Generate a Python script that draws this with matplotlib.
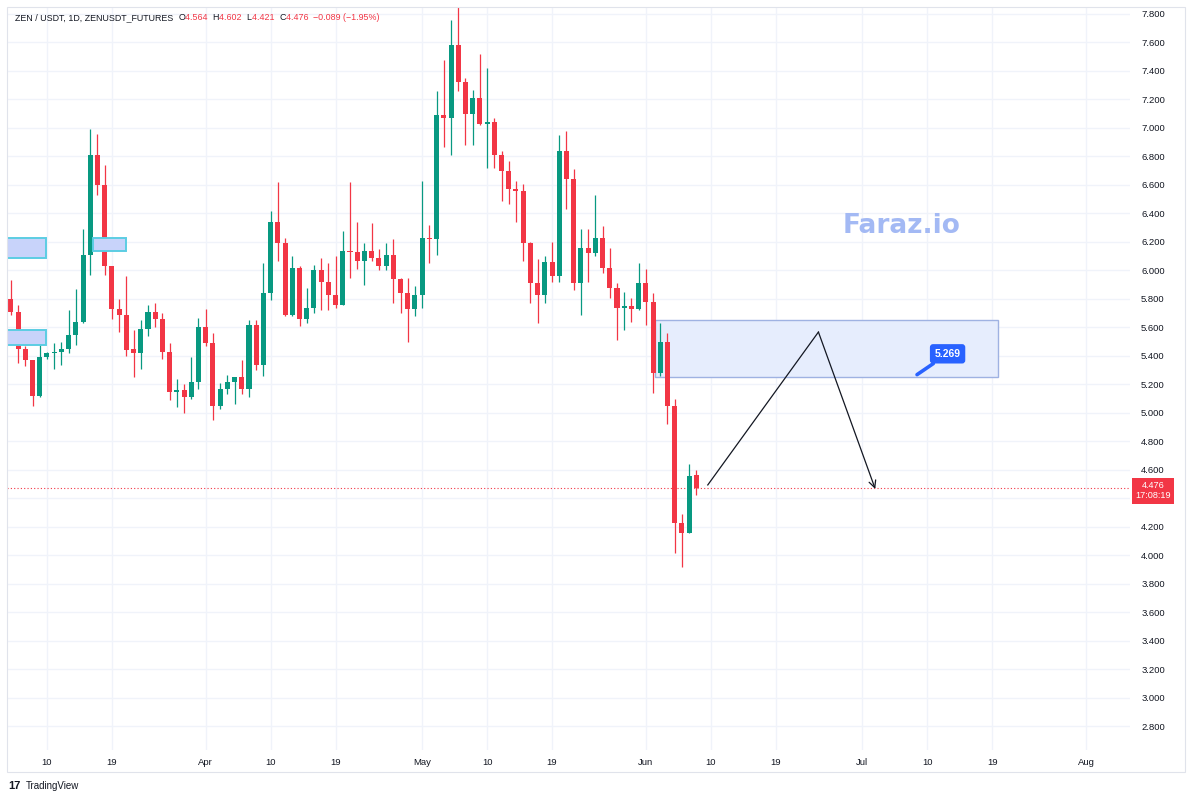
import matplotlib
matplotlib.use("Agg")
import matplotlib.pyplot as plt
import matplotlib.dates as mdates
from matplotlib.patches import Rectangle
from matplotlib.ticker import MultipleLocator, FuncFormatter
import matplotlib.transforms as mtransforms
import numpy as np
import pandas as pd

# daily candles, first one on first_day
first_day = "2025-03-05"
opens = [5.80, 5.71, 5.45, 5.37, 5.12, 5.39, 5.42, 5.43, 5.45, 5.55,
         5.64, 6.11, 6.81, 6.60, 6.03, 5.73, 5.69, 5.45, 5.42, 5.59,
         5.71, 5.66, 5.43, 5.15, 5.16, 5.11, 5.22, 5.60, 5.49, 5.05,
         5.17, 5.22, 5.25, 5.17, 5.62, 5.34, 5.84, 6.34, 6.19, 5.69,
         6.02, 5.66, 5.74, 6.00, 5.92, 5.83, 5.76, 6.14, 6.13, 6.07,
         6.14, 6.09, 6.03, 6.11, 5.94, 5.84, 5.73, 5.83, 6.23, 6.22,
         7.09, 7.07, 7.58, 7.32, 7.10, 7.21, 7.03, 7.04, 6.81, 6.70,
         6.57, 6.56, 6.19, 5.91, 5.83, 6.06, 5.96, 6.84, 6.64, 5.91,
         6.16, 6.12, 6.23, 6.02, 5.88, 5.74, 5.75, 5.73, 5.91, 5.78,
         5.28, 5.50, 5.05, 4.23, 4.16, 4.564]
highs = [5.93, 5.76, 5.47, 5.37, 5.53, 5.43, 5.49, 5.50, 5.72, 5.87,
         6.29, 6.99, 6.96, 6.74, 6.03, 5.80, 5.96, 5.58, 5.65, 5.76,
         5.77, 5.70, 5.49, 5.24, 5.20, 5.39, 5.67, 5.73, 5.56, 5.21,
         5.27, 5.25, 5.37, 5.65, 5.65, 6.05, 6.42, 6.62, 6.23, 6.10,
         6.03, 5.88, 6.04, 6.09, 6.05, 6.10, 6.28, 6.62, 6.34, 6.19,
         6.33, 6.15, 6.19, 6.22, 5.95, 5.95, 5.89, 6.63, 6.32, 7.26,
         7.48, 7.76, 7.85, 7.35, 7.27, 7.52, 7.42, 7.07, 6.84, 6.77,
         6.63, 6.61, 6.20, 6.08, 6.10, 6.20, 6.95, 6.98, 6.71, 6.29,
         6.29, 6.53, 6.31, 6.16, 5.91, 5.85, 5.81, 6.05, 6.01, 5.84,
         5.63, 5.56, 5.10, 4.29, 4.64, 4.602]
lows = [5.69, 5.35, 5.33, 5.05, 5.11, 5.38, 5.31, 5.34, 5.42, 5.48,
        5.63, 5.97, 6.53, 5.97, 5.66, 5.57, 5.40, 5.25, 5.31, 5.54,
        5.60, 5.38, 5.09, 5.04, 5.00, 5.10, 5.17, 5.47, 4.95, 5.03,
        5.13, 5.06, 5.13, 5.11, 5.30, 5.26, 5.79, 6.07, 5.68, 5.68,
        5.61, 5.63, 5.70, 5.72, 5.72, 5.74, 5.76, 5.95, 6.01, 5.90,
        6.07, 6.00, 6.00, 5.77, 5.70, 5.50, 5.68, 5.74, 6.05, 6.11,
        6.87, 6.81, 7.26, 6.88, 6.88, 7.02, 6.72, 6.72, 6.49, 6.47,
        6.34, 6.07, 5.77, 5.63, 5.77, 5.92, 5.92, 6.43, 5.86, 5.69,
        5.92, 6.10, 5.98, 5.81, 5.51, 5.58, 5.64, 5.72, 5.62, 5.14,
        5.26, 4.92, 4.02, 3.92, 4.16, 4.421]
closes = [5.71, 5.45, 5.37, 5.12, 5.39, 5.42, 5.43, 5.45, 5.55, 5.64,
          6.11, 6.81, 6.60, 6.03, 5.73, 5.69, 5.44, 5.42, 5.59, 5.71,
          5.66, 5.43, 5.15, 5.16, 5.11, 5.22, 5.60, 5.49, 5.05, 5.17,
          5.22, 5.25, 5.17, 5.62, 5.34, 5.84, 6.34, 6.19, 5.69, 6.02,
          5.66, 5.74, 6.00, 5.92, 5.83, 5.76, 6.14, 6.13, 6.07, 6.14,
          6.09, 6.03, 6.11, 5.94, 5.84, 5.73, 5.83, 6.23, 6.22, 7.09,
          7.07, 7.58, 7.32, 7.10, 7.21, 7.03, 7.04, 6.81, 6.70, 6.57,
          6.56, 6.19, 5.91, 5.83, 6.06, 5.96, 6.84, 6.64, 5.91, 6.16,
          6.12, 6.23, 6.02, 5.88, 5.74, 5.75, 5.73, 5.91, 5.78, 5.28,
          5.50, 5.05, 4.23, 4.16, 4.56, 4.476]

last_price = 4.476
header_name = "ZEN / USDT, 1D, ZENUSDT_FUTURES"
header_ohlc = [("O", "4.564"), ("H", "4.602"), ("L", "4.421"), ("C", "4.476")]
header_change = "\u22120.089 (\u22121.95%)"
countdown = "17:08:19"

# supply / demand zones: start, end, top, bottom
zone_starts = ["2025-02-25", "2025-03-16 10:00", "2025-02-25"]
zone_ends = ["2025-03-09 22:00", "2025-03-21 00:00", "2025-03-09 22:00"]
zone_tops = [6.23, 6.23, 5.58]
zone_bottoms = [6.09, 6.14, 5.48]

target_start = "2025-06-02 08:00"
target_end = "2025-07-19 20:00"
target_top = 5.65
target_bottom = 5.25
target_label = 5.269
target_label_day = "2025-07-08 14:00"

path_days = ["2025-06-09 14:00", "2025-06-24 22:00", "2025-07-02 19:00"]
path_prices = [4.495, 5.568, 4.467]

up_col = "#089981"
down_col = "#f23645"
text_col = "#131722"
grid_col = "#f0f3fa"

plt.rcParams["font.family"] = ["Liberation Sans", "DejaVu Sans"]

W, H = 1193, 800
fig = plt.figure(figsize=(W / 100, H / 100), dpi=100)
fig.patch.set_facecolor("white")
ax = fig.add_axes([7 / W, 1 - 750 / H, (1130 - 7) / W, (750 - 8) / H])

dates = pd.date_range(first_day, periods=len(opens), freq="D")
x = mdates.date2num(dates)
o = np.array(opens)
c = np.array(closes)
cols = np.where(c >= o, up_col, down_col)

ax.vlines(x, lows, highs, colors=cols, lw=0.9, zorder=3)
body = np.maximum(np.abs(c - o), 0.007)
ax.bar(x, body, bottom=np.minimum(o, c), width=0.7, color=cols, zorder=4)

# zones
for s, e, t, b in zip(zone_starts, zone_ends, zone_tops, zone_bottoms):
    xs = mdates.date2num(pd.Timestamp(s))
    xe = mdates.date2num(pd.Timestamp(e))
    ax.add_patch(Rectangle((xs, b), xe - xs, t - b, fc="#c8d3fa", ec="#5ccde3",
                           lw=1.4, zorder=5))

ts = mdates.date2num(pd.Timestamp(target_start))
te = mdates.date2num(pd.Timestamp(target_end))
ax.add_patch(Rectangle((ts, target_bottom), te - ts, target_top - target_bottom,
                       fc="#e6edfd", ec="#9fb2e2", lw=1, zorder=2))

# projected path
px = mdates.date2num(pd.to_datetime(path_days))
ax.plot(px[:2], path_prices[:2], color=text_col, lw=0.9, zorder=6)
ax.annotate("", xy=(px[2], path_prices[2]), xytext=(px[1], path_prices[1]),
            arrowprops=dict(arrowstyle="->,head_length=0.5,head_width=0.25",
                            color=text_col, lw=0.9, shrinkA=0, shrinkB=0),
            zorder=6)

# price label in the zone
lx = mdates.date2num(pd.Timestamp(target_label_day))
ax.annotate(f"{target_label:.3f}", xy=(lx, target_label), xytext=(22, 15),
            textcoords="offset points", ha="center", va="center",
            color="white", fontsize=7.5, fontweight="bold",
            bbox=dict(boxstyle="round,pad=0.45,rounding_size=0.3",
                      fc="#2962ff", ec="none"),
            arrowprops=dict(arrowstyle="-", color="#2962ff", lw=2.6,
                            shrinkA=0, shrinkB=0),
            zorder=8)

# last price line and tag on the price scale
ax.axhline(last_price, color=down_col, lw=0.8, ls=(0, (1, 2)), zorder=1)
trans = mtransforms.blended_transform_factory(ax.transAxes, ax.transData)
ax.text(1 + 23 / 1123, last_price + 0.045, f"{last_price:.3f}\n{countdown}",
        transform=trans, ha="center", va="top", color="white", fontsize=6.6,
        linespacing=1.15, clip_on=False, zorder=10,
        bbox=dict(boxstyle="square,pad=0.4", fc=down_col, ec="none"))

# axes
start_num = mdates.date2num(pd.Timestamp("2025-03-10"))
ax.set_xlim(start_num - 5.54, start_num + 150.1)
ax.set_ylim(2.635, 7.842)
ax.xaxis.set_major_locator(mdates.DayLocator(bymonthday=[1, 10, 19]))


def date_label(v, pos):
    d = mdates.num2date(v)
    return d.strftime("%b") if d.day == 1 else str(d.day)


def price_label(v, pos):
    # the last price tag hides the scale label underneath it
    if last_price - 0.12 < v < last_price + 0.03:
        return ""
    return f"{v:.3f}"


ax.xaxis.set_major_formatter(FuncFormatter(date_label))
ax.yaxis.set_major_locator(MultipleLocator(0.2))
ax.yaxis.set_major_formatter(FuncFormatter(price_label))
ax.yaxis.tick_right()
ax.tick_params(axis="both", length=0, labelsize=6.8, colors=text_col)
ax.tick_params(axis="y", pad=8)
ax.tick_params(axis="x", pad=6)
ax.grid(True, color=grid_col, lw=1)
ax.set_axisbelow(True)
for sp in ax.spines.values():
    sp.set_visible(False)

# chart frame
fig.add_artist(Rectangle((7 / W, 1 - 772 / H), (1185 - 7) / W, (772 - 7) / H,
                         transform=fig.transFigure, fill=False, ec="#e0e3eb",
                         lw=0.8))

# header line, each piece placed after the previous one
pieces = [(header_name + "  ", text_col)]
for letter, val in header_ohlc:
    pieces.append((letter, text_col))
    pieces.append((val + "  ", down_col))
pieces.append((header_change, down_col))
prev = None
for txt, col in pieces:
    if prev is None:
        prev = fig.text(15 / W, 1 - 18 / H, txt, color=col, fontsize=6.4,
                        va="center")
    else:
        prev = ax.annotate(txt, xy=(1, 0.5), xycoords=prev, va="center",
                           ha="left", color=col, fontsize=6.4,
                           annotation_clip=False)

# watermark
fig.text(902 / W, 1 - 226 / H, "Faraz.io", color="#a3b9f4", fontsize=19,
         fontweight="bold", family="DejaVu Sans", ha="center", va="center")

# footer logo
fig.text(8 / W, 1 - 786 / H, "17", color=text_col, fontsize=8,
         fontweight="bold", va="center")
fig.text(26 / W, 1 - 786 / H, "TradingView", color=text_col, fontsize=7,
         va="center")

fig.savefig("out.png", dpi=100, facecolor="white")
